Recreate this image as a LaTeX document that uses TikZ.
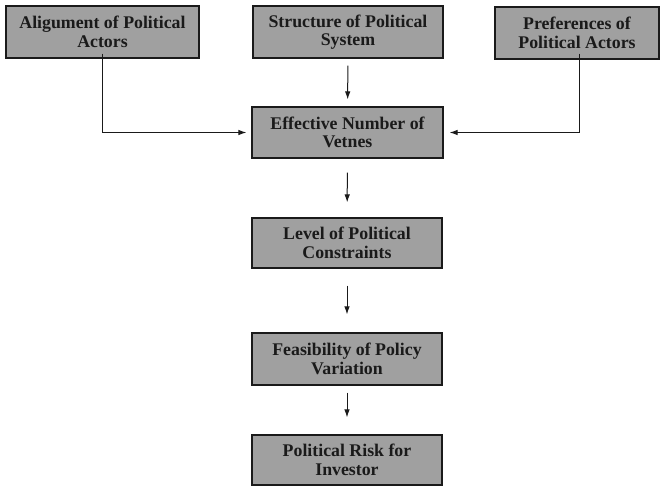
\documentclass[tikz,border=0pt]{standalone}
\usepackage{fontspec}
\setmainfont{Liberation Serif}
\usetikzlibrary{arrows.meta}
\definecolor{boxfill}{HTML}{A0A0A0}
\definecolor{ink}{HTML}{1A1A1A}
\begin{document}
\begin{tikzpicture}[x=1pt,y=-1pt,
  factor/.style={draw=ink, line width=1.1pt, fill=boxfill, text=ink, inner sep=0pt,
    align=center, font=\fontsize{17.8}{18.5}\selectfont\bfseries},
  arr/.style={draw=ink, line width=1pt, -{Latex[length=8pt,width=5.5pt]}}]
\useasboundingbox (0,0) rectangle (662,486);
\node[factor, minimum width=193pt, minimum height=52pt] (A) at (102.5,32) {Aligument of Political\\Actors};
\node[factor, minimum width=190pt, minimum height=52pt] (S) at (348,32) {Structure of Political\\System};
\node[factor, minimum width=164pt, minimum height=52pt] (P) at (577,33) {Preferences of\\Political Actors};
\node[factor, minimum width=191pt, minimum height=51pt] (E) at (347.5,132.5) {Effective Number of\\Vetnes};
\node[factor, minimum width=190pt, minimum height=50pt] (L) at (347,243) {Level of Political\\Constraints};
\node[factor, minimum width=190pt, minimum height=52pt] (F) at (347,359) {Feasibility of Policy\\Variation};
\node[factor, minimum width=190pt, minimum height=50pt] (R) at (347,460) {Political Risk for\\Investor};
\coordinate (Aout) at ([yshift=5pt]A.south);
\coordinate (Ein) at ([xshift=-5pt]E.west);
\coordinate (Pout) at ([xshift=2pt,yshift=6pt]P.south);
\coordinate (Ein2) at ([xshift=6pt]E.east);
\draw[arr] (Aout) |- (Ein);
\draw[arr] (Pout) |- (Ein2);
\draw[arr, shorten <=7pt, shorten >=7pt] (S) -- (E);
\draw[arr, shorten <=14pt, shorten >=15pt] (E) -- (L);
\draw[arr, shorten <=17pt, shorten >=18pt] (L) -- (F);
\draw[arr, shorten <=7pt, shorten >=17pt] (F) -- (R);
\end{tikzpicture}
\end{document}
